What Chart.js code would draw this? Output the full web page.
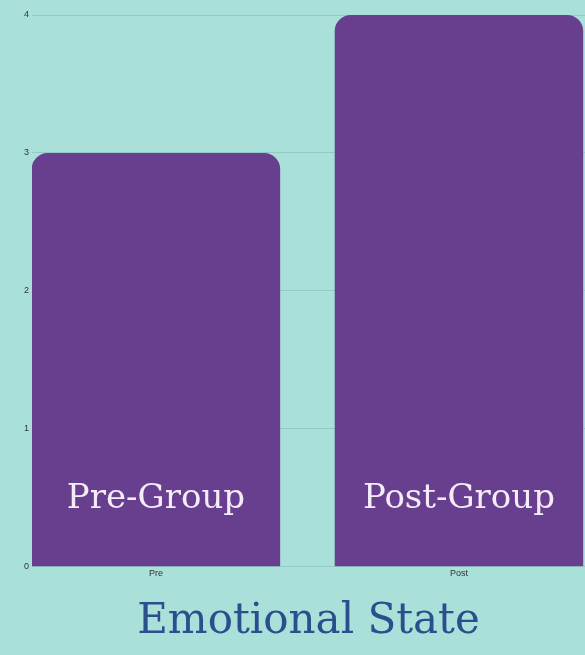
<!DOCTYPE html>
<html>
<head>
<meta charset="utf-8">
<script src="https://cdn.jsdelivr.net/npm/chart.js@4"></script>
<style>
  html, body { margin: 0; padding: 0; background: #aae0da; }
  #wrap { width: 585px; height: 655px; }
</style>
</head>
<body>
<div id="wrap"><canvas id="emotionChart"></canvas></div>
<script>
const categories = ['Pre', 'Post'];
const groupNames = ['Pre-Group', 'Post-Group'];
const scores = [3, 4];
const yTicks = [0, 1, 2, 3, 4];

// bars sit on a numeric x axis so the side margins can be tuned freely
const points = scores.map((v, i) => ({ x: i, y: v }));

// writes the group name inside each bar, near its foot
const groupLabels = {
    id: 'groupLabels',
    afterDatasetsDraw(chart) {
        const { ctx, scales } = chart;
        const meta = chart.getDatasetMeta(0);
        ctx.save();
        ctx.font = '34px "DejaVu Serif"';
        ctx.fillStyle = '#f4ecf7';
        ctx.textAlign = 'center';
        ctx.textBaseline = 'middle';
        meta.data.forEach((bar, i) => {
            ctx.fillText(groupNames[i], bar.x, scales.y.bottom - 68);
        });
        ctx.restore();
    }
};

const ctx = document.getElementById('emotionChart').getContext('2d');
const emotionChart = new Chart(ctx, {
    type: 'bar',
    data: {
        datasets: [{
            data: points,
            backgroundColor: '#683e8f',
            borderRadius: { topLeft: 16, topRight: 16 },
            borderSkipped: 'start',
            barPercentage: 0.82,
            categoryPercentage: 1
        }]
    },
    options: {
        responsive: true,
        maintainAspectRatio: false,
        animation: false,
        layout: { padding: { left: 21, top: 15, right: 0, bottom: 0 } },
        plugins: {
            legend: { display: false },
            tooltip: { enabled: false },
            title: {
                display: true,
                position: 'bottom',
                fullSize: false,
                text: 'Emotional State',
                color: '#2b4e8c',
                font: { family: '"DejaVu Serif"', size: 42, weight: 'normal' },
                padding: { top: 17, bottom: 8 }
            }
        },
        scales: {
            x: {
                type: 'linear',
                offset: false,
                min: -0.409,
                max: 1.416,
                grid: { display: false, drawTicks: false },
                border: { display: false },
                ticks: {
                    stepSize: 1,
                    includeBounds: false,
                    autoSkip: false,
                    maxRotation: 0,
                    padding: 1,
                    color: '#333',
                    font: { family: '"Liberation Sans"', size: 9 },
                    callback: (v) => categories[v] ?? ''
                }
            },
            y: {
                min: 0,
                max: 4,
                afterBuildTicks: (axis) => { axis.ticks = yTicks.map(v => ({ value: v })); },
                grid: { color: '#93cbc4', drawTicks: false },
                border: { display: false },
                ticks: {
                    padding: 3,
                    color: '#333',
                    font: { family: '"Liberation Sans"', size: 9 }
                }
            }
        }
    },
    plugins: [groupLabels]
});
</script>
</body>
</html>
